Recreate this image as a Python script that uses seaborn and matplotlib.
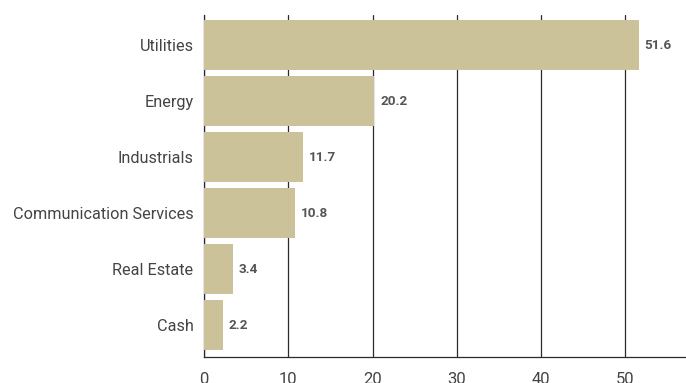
import matplotlib
matplotlib.use("Agg")
import matplotlib.pyplot as plt
import seaborn as sns
import pandas as pd

categories = ["Utilities", "Energy", "Industrials", "Communication Services", "Real Estate", "Cash"]
values = [51.6, 20.2, 11.7, 10.8, 3.4, 2.2]
xticks = [0, 10, 20, 30, 40, 50]

df = pd.DataFrame({"cat": categories, "val": values})

sns.set_style("white")
plt.rcParams["font.family"] = ["Roboto", "DejaVu Sans"]

fig = plt.figure(figsize=(6.86, 3.83), dpi=100)
ax = fig.add_axes([204/686, 26/383, 1 - 204/686, (357-15)/383])

sns.barplot(data=df, x="val", y="cat", orient="h", color="#CCC29A",
            saturation=1, width=0.89, ax=ax, zorder=3, linewidth=0, edgecolor="none")

ax.set_xlim(0, 57.2)
ax.set_ylim(5.57, -0.54)
ax.set_xticks(xticks)
ax.set_xticklabels([str(t) for t in xticks], fontsize=12, color="#444444")
ax.tick_params(axis="x", length=0, pad=11)
ax.tick_params(axis="y", length=0, pad=7.5, labelsize=11.7, labelcolor="#444444")
ax.set_xlabel("")
ax.set_ylabel("")
ax.grid(axis="x", color="#2a2a2a", linewidth=0.9, zorder=0)
ax.grid(axis="y", visible=False)
for s in ["top", "right"]:
    ax.spines[s].set_visible(False)
ax.spines["left"].set_color("#2a2a2a")
ax.spines["left"].set_linewidth(0.9)
ax.spines["bottom"].set_color("#2a2a2a")
ax.spines["bottom"].set_linewidth(0.9)

for i, v in enumerate(values):
    ax.text(v + 0.7, i, f"{v:.1f}", va="center", ha="left", fontsize=9.7,
            fontweight="bold", color="#555555", zorder=4)

fig.savefig("out.png", dpi=100)
